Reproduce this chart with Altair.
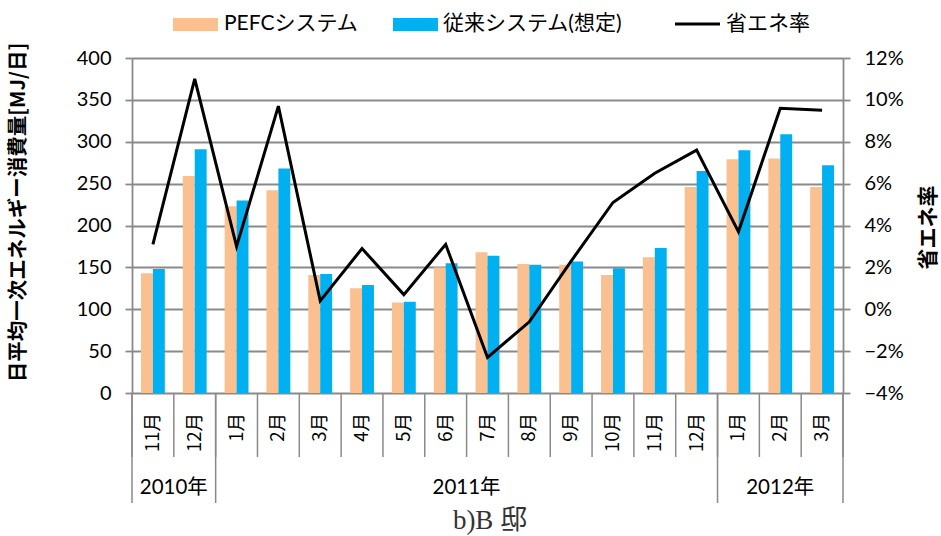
import altair as alt
import pandas as pd

# Monthly energy data, house B (Nov 2010 - Mar 2012)
months = ["11月", "12月", "1月", "2月", "3月", "4月", "5月", "6月", "7月",
          "8月", "9月", "10月", "11月", "12月", "1月", "2月", "3月"]
year_names = ["2010年", "2011年", "2012年"]
year_spans = [2, 12, 3]

series_names = ["PEFCシステム", "従来システム(想定)"]
pefc = [143, 259, 223, 242, 141, 125, 108, 150, 168, 154, 153, 141, 162, 246, 279, 280, 246]
conventional = [148, 291, 230, 268, 142, 129, 109, 155, 164, 153, 157, 149, 173, 265, 290, 309, 272]
saving_rate = [3.1, 11.0, 3.0, 9.7, 0.4, 2.9, 0.7, 3.1, -2.3, -0.6, 2.3, 5.1, 6.5, 7.6, 3.7, 9.6, 9.5]

left_ticks = [0, 50, 100, 150, 200, 250, 300, 350, 400]
right_ticks = [-0.04, -0.02, 0, 0.02, 0.04, 0.06, 0.08, 0.10, 0.12]

# ---- tables ----
keys = [f"{i:02d}" for i in range(len(months))]
bars_df = pd.DataFrame(
    [{"key": k, "series": series_names[0], "value": v} for k, v in zip(keys, pefc)]
    + [{"key": k, "series": series_names[1], "value": v} for k, v in zip(keys, conventional)]
)
line_df = pd.DataFrame({"key": keys, "rate": [r / 100 for r in saving_rate]})
month_df = pd.DataFrame({"pos": [i + 0.5 for i in range(len(months))], "label": months})

year_bounds = [0]
for s in year_spans:
    year_bounds.append(year_bounds[-1] + s)
year_df = pd.DataFrame({
    "pos": [(year_bounds[i] + year_bounds[i + 1]) / 2 for i in range(len(year_names))],
    "label": year_names,
})
month_sep_df = pd.DataFrame({"pos": list(range(len(months) + 1))})
year_sep_df = pd.DataFrame({"pos": year_bounds})
one = pd.DataFrame({"k": [0]})

GRID = "#8a8a8a"
CJK = "Noto Sans CJK JP"
MIX = "Lato, 'Noto Sans CJK JP'"

band = alt.Scale(type="band", paddingInner=0.43, paddingOuter=0.215)
idx_scale = alt.Scale(domain=[0, len(months)], nice=False, zero=False)

bars = alt.Chart(bars_df).mark_bar().encode(
    x=alt.X("key:N", sort=keys, scale=band, axis=None),
    xOffset=alt.XOffset("series:N", sort=series_names),
    y=alt.Y(
        "value:Q",
        scale=alt.Scale(domain=[0, 400], nice=False),
        axis=alt.Axis(
            values=left_ticks, grid=True, gridColor=GRID, gridWidth=1.8,
            domainColor=GRID, domainWidth=1.8, tickColor=GRID, tickWidth=1.8,
            tickSize=7, labelPadding=14, labelFont="Lato", labelFontSize=20,
            labelColor="black",
            title="日平均一次エネルギー消費量[MJ/日]", titleFont=CJK,
            titleFontSize=20.5, titleFontWeight="bold", titleColor="black",
            titleAngle=270, titleX=-114, titleY=154,
            titleAlign="center", titleBaseline="middle",
        ),
    ),
    color=alt.Color("series:N", scale=alt.Scale(domain=series_names,
                                                range=["#FAC090", "#00B0F0"]),
                    legend=None),
)

line = alt.Chart(line_df).mark_line(color="black", strokeWidth=3).encode(
    x=alt.X("key:N", sort=keys, scale=band, axis=None),
    y=alt.Y(
        "rate:Q",
        scale=alt.Scale(domain=[-0.04, 0.12], nice=False, zero=False),
        axis=alt.Axis(
            orient="right", values=right_ticks, format=".0%", grid=False,
            domainColor=GRID, domainWidth=1.8, tickColor=GRID, tickWidth=1.8,
            tickSize=7, labelPadding=14, labelFont="Lato", labelFontSize=20,
            labelColor="black",
            title="省エネ率", titleFont=CJK, titleFontSize=21,
            titleFontWeight="bold", titleColor="black",
            titleAngle=270, titleX=85, titleY=169,
            titleAlign="center", titleBaseline="middle",
        ),
    ),
)

month_seps = alt.Chart(month_sep_df).mark_rule(color=GRID, strokeWidth=1.5).encode(
    x=alt.X("pos:Q", scale=idx_scale, axis=None),
    y=alt.value(335), y2=alt.value(399),
)
year_seps = alt.Chart(year_sep_df).mark_rule(color=GRID, strokeWidth=1.5).encode(
    x=alt.X("pos:Q", scale=idx_scale, axis=None),
    y=alt.value(335), y2=alt.value(445),
)
month_text = alt.Chart(month_df).mark_text(
    angle=270, align="right", baseline="middle", font=CJK, fontSize=18.5, color="black"
).encode(
    x=alt.X("pos:Q", scale=idx_scale, axis=None),
    y=alt.value(355),
    text="label:N",
)
year_text = alt.Chart(year_df).mark_text(
    align="center", baseline="middle", font=MIX, fontSize=20.5, color="black"
).encode(
    x=alt.X("pos:Q", scale=idx_scale, axis=None),
    y=alt.value(430),
    text="label:N",
)
caption = alt.Chart(one).mark_text(
    align="center", baseline="middle", font="'Liberation Serif', 'Noto Sans CJK JP'",
    fontSize=27, color="#333333", text="b)B 邸"
).encode(x=alt.value(358), y=alt.value(463))

# Legend row above the plot
leg_pefc = alt.Chart(one).mark_rect(color="#FAC090").encode(
    x=alt.value(41), x2=alt.value(86), y=alt.value(-40), y2=alt.value(-27))
leg_pefc_t = alt.Chart(one).mark_text(
    align="left", baseline="middle", font=MIX, fontSize=21, color="black",
    text=series_names[0]).encode(x=alt.value(92), y=alt.value(-34))
leg_conv = alt.Chart(one).mark_rect(color="#00B0F0").encode(
    x=alt.value(261), x2=alt.value(306), y=alt.value(-40), y2=alt.value(-27))
leg_conv_t = alt.Chart(one).mark_text(
    align="left", baseline="middle", font=MIX, fontSize=21, color="black",
    text=series_names[1]).encode(x=alt.value(311), y=alt.value(-34))
leg_rate = alt.Chart(one).mark_rule(color="black", strokeWidth=3).encode(
    x=alt.value(543), x2=alt.value(588), y=alt.value(-34))
leg_rate_t = alt.Chart(one).mark_text(
    align="left", baseline="middle", font=MIX, fontSize=21, color="black",
    text="省エネ率").encode(x=alt.value(594), y=alt.value(-34))

chart = alt.layer(
    bars, line, month_seps, year_seps, month_text, year_text, caption,
    leg_pefc, leg_pefc_t, leg_conv, leg_conv_t, leg_rate, leg_rate_t,
).resolve_scale(
    x="independent", y="independent", color="independent"
).properties(
    width=711, height=335,
    autosize=alt.AutoSizeParams(type="none"),
    padding={"left": 132, "top": 58, "right": 98, "bottom": 143},
    background="white",
).configure_view(stroke="transparent")

chart.save("out.html", embed_options={"renderer": "svg", "actions": False})
